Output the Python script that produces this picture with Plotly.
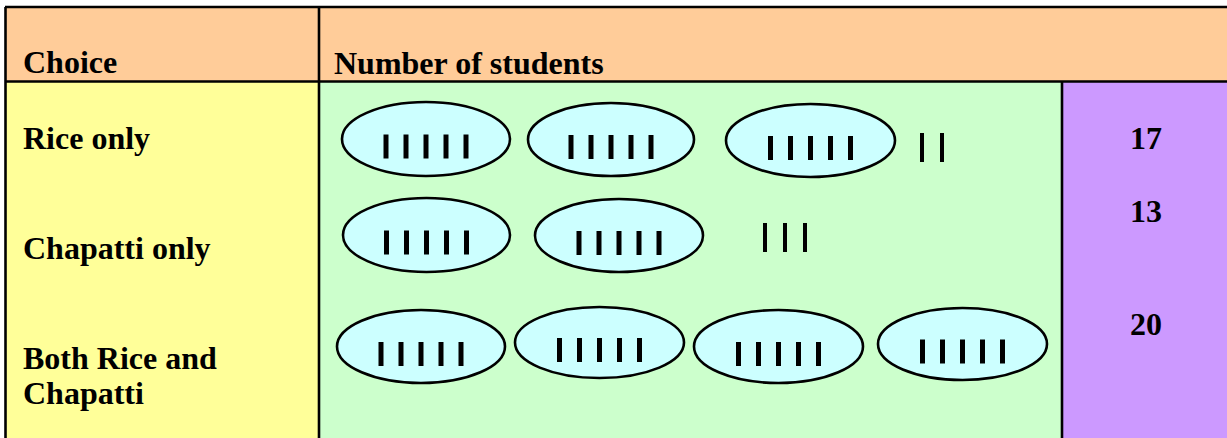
import plotly.graph_objects as go

# ---------------- data ----------------
header_labels = ["Choice", "Number of students"]
categories = ["Rice only", "Chapatti only", "Both Rice and<br>Chapatti"]
counts = [17, 13, 20]
group_size = 5

# ---------------- layout (pixel coordinates of the picture) ----------------
W, H = 1227, 438
ellipse_boxes = [
    [(342, 510, 102, 176), (528, 694, 103, 176), (726, 895, 104, 177)],
    [(343, 510, 198, 272), (535, 703, 199, 272)],
    [(337, 505, 310, 383), (515, 684, 307, 378), (694, 863, 310, 383), (878, 1047, 308, 380)],
]
loose_start_x = [922, 765, 900]
loose_y = [(133, 162), (223, 252), (330, 360)]
label_baselines = [149, 259, 369]
number_baselines = [149, 222, 335]
line_gap = 35

C_HEADER = "#FFCC99"
C_CHOICE = "#FFFF99"
C_TALLY = "#CCFFCC"
C_NUM = "#CC99FF"
C_ELL = "#CCFFFF"
FONT = "Liberation Serif"
FS = 32

fig = go.Figure()
shapes = []
BIG = W + 50
BOT = H + 50

# cell backgrounds
shapes.append(dict(type="rect", x0=5, x1=BIG, y0=7, y1=81, fillcolor=C_HEADER, line_width=0, layer="below"))
shapes.append(dict(type="rect", x0=5, x1=319, y0=81, y1=BOT, fillcolor=C_CHOICE, line_width=0, layer="below"))
shapes.append(dict(type="rect", x0=319, x1=1062, y0=81, y1=BOT, fillcolor=C_TALLY, line_width=0, layer="below"))
shapes.append(dict(type="rect", x0=1062, x1=BIG, y0=81, y1=BOT, fillcolor=C_NUM, line_width=0, layer="below"))

# grid lines
grid = [
    (5, BIG, 7, 7),
    (5.5, 5.5, 7, BOT),
    (5, BIG, 81.5, 81.5),
    (319, 319, 7, BOT),
    (1062, 1062, 81.5, BOT),
]
for x0, x1, y0, y1 in grid:
    shapes.append(dict(type="line", x0=x0, x1=x1, y0=y0, y1=y1, layer="below",
                       line=dict(color="black", width=2.6)))

# tally groups
gx, gy = [], []
lx, ly = [], []
for r, n in enumerate(counts):
    groups = n // group_size
    rem = n % group_size
    for g in range(groups):
        x0, x1, y0, y1 = ellipse_boxes[r][g]
        shapes.append(dict(type="circle", x0=x0, x1=x1, y0=y0, y1=y1, fillcolor=C_ELL,
                           layer="below", line=dict(color="black", width=2.6)))
        cx = (x0 + x1) / 2
        cy = (y0 + y1) / 2 + 7.5
        for k in range(group_size):
            mx = cx + (k - (group_size - 1) / 2) * 20
            gx += [mx, mx, None]
            gy += [cy - 12, cy + 12, None]
    for k in range(rem):
        mx = loose_start_x[r] + k * 20
        lx += [mx, mx, None]
        ly += [loose_y[r][0], loose_y[r][1], None]

fig.add_trace(go.Scatter(x=gx, y=gy, mode="lines", line=dict(color="black", width=5),
                         hoverinfo="skip", showlegend=False))
fig.add_trace(go.Scatter(x=lx, y=ly, mode="lines", line=dict(color="black", width=4),
                         hoverinfo="skip", showlegend=False))

annotations = []
def txt(s, x, baseline, anchor="left"):
    annotations.append(dict(text="<b>" + s + "</b>", x=x, y=baseline - 11, xref="x", yref="y",
                            xanchor=anchor, yanchor="middle", showarrow=False,
                            font=dict(family=FONT, size=FS, color="black")))

txt(header_labels[0], 21, 73)
txt(header_labels[1], 332, 74)
for r, cat in enumerate(categories):
    for i, line in enumerate(cat.split("<br>")):
        txt(line, 21, label_baselines[r] + i * line_gap)
    txt(str(counts[r]), 1146, number_baselines[r], anchor="center")

fig.update_layout(
    width=W, height=H,
    margin=dict(l=0, r=0, t=0, b=0),
    paper_bgcolor="white", plot_bgcolor="white",
    shapes=shapes, annotations=annotations,
    xaxis=dict(range=[0, W], visible=False, fixedrange=True),
    yaxis=dict(range=[H, 0], visible=False, fixedrange=True),
    showlegend=False,
)

fig.write_html("out.html", config={"displayModeBar": False},
               post_script="document.body.style.margin='0';document.body.style.overflow='hidden';")
